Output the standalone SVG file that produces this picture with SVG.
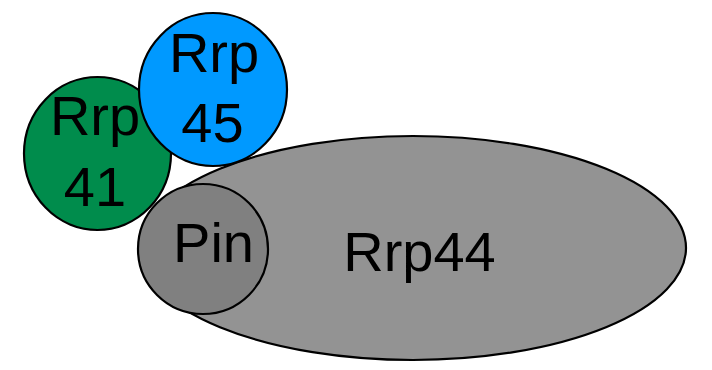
<svg xmlns="http://www.w3.org/2000/svg" width="712" height="370" viewBox="0 0 712 370">
<style>
.s{stroke:#000;stroke-width:2.2}
.t{font-family:"Liberation Sans",Arial,sans-serif;font-size:56px;fill:#000;text-anchor:middle}
</style>
<rect width="712" height="370" fill="#fff"/>
<g id="connectors"/>
<g id="rrp44">
<ellipse class="s" cx="413" cy="248" rx="273" ry="112" fill="#939393"/>
<text class="t" x="419.5" y="271">Rrp44</text>
</g>
<g id="pin">
<circle class="s" cx="203" cy="249" r="65" fill="#808080"/>
<text class="t" x="213.5" y="262">Pin</text>
</g>
<g id="rrp41">
<ellipse class="s" cx="97.5" cy="153.5" rx="73.5" ry="76.5" fill="#008C4C"/>
<text class="t" x="95" y="135">Rrp</text>
<text class="t" x="95" y="206">41</text>
</g>
<g id="rrp45">
<ellipse class="s" cx="213" cy="89.5" rx="74" ry="76.5" fill="#0099FF"/>
<text class="t" x="214" y="72">Rrp</text>
<text class="t" x="212.5" y="142">45</text>
</g>
</svg>
